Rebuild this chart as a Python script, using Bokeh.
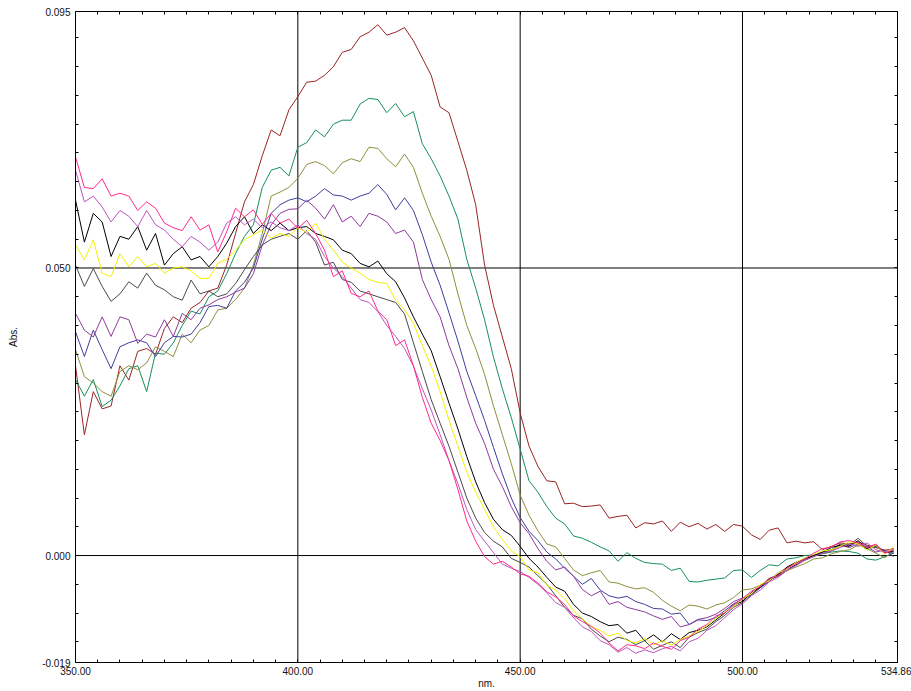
from bokeh.plotting import figure
from bokeh.models import Range1d, FixedTicker, LinearAxis, NumeralTickFormatter, Span
from bokeh.embed import file_html
from bokeh.resources import INLINE

# wavelength grid (nm), 2 nm steps
wavelength_nm = list(range(350, 535, 2))

# absorbance values in milli-absorbance units (x 1e-3)
red_mabs = [
    33.0, 21.0, 28.5, 25.5, 26.0, 33.0, 30.5, 35.5, 36.0, 35.0,
    39.5, 41.5, 40.5, 43.0, 44.0, 46.0, 46.5, 50.5, 56.0, 61.5,
    64.5, 69.5, 74.0, 73.0, 77.5, 79.8, 82.3, 82.5, 83.5, 85.0,
    87.5, 88.0, 90.2, 91.0, 92.3, 90.5, 91.0, 91.8, 89.5, 86.5,
    83.5, 78.0, 77.0, 72.0, 67.0, 61.0, 50.5, 43.5, 38.0, 32.5,
    24.8, 19.0, 15.5, 13.0, 12.8, 9.0, 9.1, 8.5, 8.6, 8.8,
    6.5, 6.8, 7.0, 4.8, 5.7, 5.5, 6.0, 4.2, 5.8, 5.0,
    5.6, 4.6, 5.4, 4.2, 5.4, 5.1, 3.6, 2.8, 4.4, 4.8,
    2.2, 2.5, 2.2, 2.4, 1.0, 1.6, 2.2, 2.0, 2.4, 1.8,
    1.5, 0.9, 1.2]
green_mabs = [
    30.6, 27.7, 30.6, 25.9, 27.0, 29.5, 32.5, 33.0, 28.5, 35.2,
    35.0, 37.0, 40.0, 42.5, 42.0, 45.0, 46.0, 49.0, 52.5, 55.5,
    57.5, 64.0, 67.0, 67.5, 66.0, 71.0, 71.8, 74.0, 72.8, 75.0,
    75.7, 75.7, 78.5, 79.5, 79.3, 77.0, 78.6, 76.3, 77.2, 71.6,
    69.0, 66.0, 62.5, 58.5, 51.5, 46.5, 41.0, 34.5, 29.0, 24.0,
    18.5, 13.0, 11.0, 8.5, 6.5, 5.5, 3.4, 3.0, 2.3, 1.5,
    0.8, -1.0, 0.5, -0.5, -1.2, -1.4, -1.5, -2.6, -2.2, -4.5,
    -4.6, -4.3, -4.1, -3.9, -2.6, -2.5, -3.8, -2.6, -1.6, -1.8,
    -0.6, -0.4, 0.0, 0.1, 0.3, 0.6, 0.8, 0.7, 0.4, -0.6,
    -0.8, -0.2, 0.4]
olive_mabs = [
    35.8, 31.1, 30.0, 28.5, 27.7, 32.0, 33.0, 32.3, 33.5, 36.3,
    35.5, 34.6, 38.5, 37.0, 39.2, 40.0, 42.7, 43.0, 44.5, 46.5,
    50.5, 56.0, 62.5, 63.2, 64.0, 65.6, 68.0, 68.5, 67.8, 66.4,
    68.3, 69.0, 68.5, 71.0, 70.8, 69.0, 67.6, 69.8, 67.5, 63.0,
    59.0, 55.5, 51.5, 45.5, 40.0, 36.0, 31.5, 26.0, 21.0, 16.0,
    10.5, 7.0, 4.3, 2.0, 1.5, -0.5, -2.5, -3.5, -3.0, -2.6,
    -4.6, -4.8, -5.4, -5.8, -5.6, -6.4, -7.8, -8.8, -9.6, -8.6,
    -8.8, -9.3, -8.6, -8.2, -7.3, -6.0, -5.8, -5.2, -4.2, -3.5,
    -2.6, -2.0, -1.4, -0.6, -0.4, 0.3, 0.7, 1.0, 1.8, 1.2,
    0.4, -0.4, 0.8]
blue_mabs = [
    38.9, 34.6, 39.2, 35.8, 32.5, 36.3, 37.0, 37.5, 37.0, 34.6,
    37.0, 38.1, 38.0, 38.5, 40.5, 43.3, 43.5, 43.0, 46.0, 47.5,
    50.0, 55.0, 59.5, 61.0, 61.8, 62.2, 61.5, 62.5, 63.8, 62.7,
    62.5, 61.8, 62.5, 63.0, 64.5, 62.8, 60.1, 62.2, 60.0, 55.8,
    51.0, 47.0, 42.2, 37.3, 32.0, 27.8, 23.5, 18.8, 14.2, 10.0,
    6.6, 4.2, 2.6, 0.6, -0.6, -2.2, -3.6, -5.0, -4.0, -6.0,
    -7.0, -7.4, -7.1, -8.0, -8.5, -9.2, -9.3, -10.2, -10.0, -12.0,
    -11.2, -11.3, -10.8, -9.6, -8.4, -7.6, -6.8, -5.6, -4.5, -3.2,
    -2.4, -1.6, -0.8, 0.0, 0.4, 0.8, 1.5, 1.8, 2.2, 1.0,
    1.6, 0.6, 0.4]
purple_mabs = [
    42.1, 39.2, 38.0, 41.5, 38.1, 41.5, 41.0, 36.9, 38.5, 38.0,
    41.0, 38.1, 42.1, 41.0, 43.0, 43.6, 44.5, 45.0, 45.8, 46.5,
    49.0, 54.0, 57.5, 59.5, 60.2, 60.3, 61.8, 60.4, 58.5, 61.0,
    58.0, 59.0, 57.2, 59.5, 59.0, 58.0, 56.0, 56.6, 54.5, 48.0,
    44.5, 41.5, 36.5, 32.5, 27.5, 23.0, 19.5, 15.0, 12.0, 8.5,
    5.7, 3.8, 1.2, -1.0, -2.5, -2.0, -3.6, -5.9, -7.0, -6.2,
    -8.5, -8.0, -9.0, -9.4, -9.8, -10.5, -11.1, -10.6, -12.4, -12.0,
    -11.1, -10.8, -10.2, -9.2, -8.0, -7.4, -6.8, -5.2, -4.4, -3.0,
    -2.2, -1.2, -0.6, 0.0, 0.6, 0.9, 1.8, 1.4, 2.0, 1.5,
    0.6, 1.0, -0.2]
gray_mabs = [
    50.5, 46.8, 49.9, 46.8, 44.2, 45.5, 47.6, 46.5, 49.1, 47.0,
    46.2, 45.0, 44.4, 47.9, 45.5, 46.0, 45.0, 45.5, 47.3, 49.7,
    52.0, 54.0, 55.0, 55.5, 56.0, 55.0, 56.5, 54.5, 50.5, 51.0,
    48.0, 47.5, 46.0, 45.5, 45.0, 44.5, 44.0, 42.0, 37.0, 32.0,
    27.1, 23.0, 19.0, 14.5, 10.0, 6.5, 4.0, 2.5, 1.5, -0.5,
    -1.2, -2.0, -3.5, -5.0, -7.0, -9.0, -10.4, -11.0, -12.8, -14.0,
    -15.0, -14.2, -14.6, -15.5, -14.8, -16.3, -15.6, -15.0, -16.0, -14.2,
    -13.4, -12.8, -11.5, -10.4, -9.0, -8.2, -6.8, -5.6, -4.2, -3.6,
    -2.6, -1.6, -0.8, -0.2, 0.6, 1.0, 2.0, 1.8, 3.0, 1.6,
    1.4, 0.8, 0.6]
black_mabs = [
    61.8, 54.5, 59.5, 58.0, 52.0, 55.5, 55.0, 57.2, 53.1, 56.0,
    50.5, 52.5, 53.7, 51.4, 52.0, 50.2, 52.0, 54.3, 57.2, 58.9,
    56.0, 57.5, 56.5, 57.8, 56.5, 57.0, 57.2, 56.0, 55.5, 54.9,
    53.1, 52.5, 50.8, 50.2, 51.2, 49.0, 47.6, 44.8, 41.5, 38.5,
    35.6, 31.1, 26.5, 22.0, 17.2, 12.8, 9.2, 6.3, 4.5, 3.5,
    1.6, -0.5, -2.0, -3.8, -5.5, -6.2, -8.5, -10.0, -10.6, -11.5,
    -12.2, -12.0, -13.5, -13.0, -14.8, -13.8, -15.0, -13.6, -14.6, -13.4,
    -13.0, -12.4, -11.2, -10.0, -8.6, -8.0, -6.4, -5.5, -4.0, -3.4,
    -2.0, -1.2, -0.6, 0.0, 0.6, 1.4, 1.8, 1.6, 2.6, 1.2,
    1.8, 0.5, 0.8]
orchid_mabs = [
    67.0, 61.5, 62.5, 60.6, 58.0, 60.0, 59.0, 57.2, 60.0, 57.5,
    56.6, 55.0, 53.7, 55.5, 54.5, 53.1, 54.5, 57.8, 58.9, 57.5,
    58.5, 57.0, 58.0, 57.0, 56.5, 57.5, 56.0, 55.0, 52.0, 50.0,
    48.5, 46.5, 44.5, 44.0, 42.4, 40.0, 38.1, 36.0, 32.9, 29.0,
    25.3, 21.0, 16.5, 12.5, 8.0, 4.5, 2.5, 0.5, -1.5, -2.2,
    -2.8, -3.8, -5.0, -6.5, -8.2, -9.0, -10.8, -12.4, -13.2, -14.8,
    -15.5, -16.8, -16.0, -17.0, -16.4, -16.9, -16.2, -15.8, -16.6, -15.0,
    -14.4, -13.0, -12.2, -10.8, -9.4, -8.4, -7.0, -6.0, -4.6, -3.8,
    -2.6, -1.8, -0.8, -0.2, 0.4, 0.8, 1.4, 2.0, 1.6, 2.2,
    1.0, 0.6, 1.2]
yellow_mabs = [
    54.0, 51.4, 54.9, 49.1, 48.5, 52.5, 50.2, 52.0, 50.2, 50.8,
    49.1, 50.0, 50.2, 49.5, 48.2, 48.2, 50.8, 51.5, 53.1, 54.9,
    55.8, 56.6, 55.2, 56.0, 55.5, 57.0, 56.2, 57.8, 55.0, 53.1,
    51.0, 50.0, 49.1, 48.0, 47.5, 47.3, 44.4, 42.7, 40.4, 36.5,
    32.9, 28.5, 23.5, 19.0, 14.5, 11.0, 8.0, 5.0, 2.8, 0.8,
    -0.2, -2.5, -3.0, -5.2, -6.0, -7.5, -9.6, -11.0, -12.4, -13.0,
    -14.0, -13.5, -14.8, -15.2, -14.4, -15.5, -14.8, -15.6, -14.6, -14.0,
    -13.2, -12.2, -11.0, -9.8, -8.8, -7.6, -6.6, -5.0, -4.4, -3.0,
    -2.4, -1.2, -0.4, 0.2, 0.8, 1.0, 1.6, 2.4, 2.0, 1.0,
    1.8, 0.2, 1.6]
pink_mabs = [
    69.3, 64.0, 63.8, 65.5, 62.5, 63.0, 62.5, 60.0, 61.5, 60.4,
    57.8, 57.0, 56.5, 58.9, 56.6, 57.5, 52.8, 56.3, 60.4, 58.9,
    60.1, 57.6, 59.5, 57.8, 58.5, 56.9, 58.3, 56.0, 53.1, 48.5,
    49.5, 45.6, 45.0, 46.0, 42.5, 41.0, 36.5, 37.5, 33.0, 27.5,
    23.0, 20.0, 16.5, 11.5, 6.0, 2.5, -0.2, -1.5, -1.0, -2.0,
    -3.2, -3.6, -4.8, -6.3, -7.2, -8.5, -10.5, -11.5, -12.3, -13.5,
    -15.2, -16.6, -15.5, -15.7, -16.2, -15.2, -15.8, -16.3, -14.8, -14.2,
    -12.8, -12.0, -10.5, -10.0, -8.6, -7.5, -6.2, -5.4, -4.0, -3.5,
    -2.2, -1.4, -0.6, 0.4, 1.2, 1.5, 2.4, 2.6, 2.2, 1.4,
    2.0, 0.4, 1.0]

series = [
    (red_mabs, "#9a2424"),
    (green_mabs, "#16905a"),
    (olive_mabs, "#8e8e3e"),
    (blue_mabs, "#3e3e9c"),
    (purple_mabs, "#8e3a9c"),
    (gray_mabs, "#4a4a4a"),
    (black_mabs, "#000000"),
    (orchid_mabs, "#bb55c0"),
    (yellow_mabs, "#f2f200"),
    (pink_mabs, "#ff2a8a"),
]

# axis extents (edge labels are rounded: 0.095 / -0.019)
y_low, y_high = -0.0186, 0.0946
x_ticks = [350, 400, 450, 500, 534.86]
y_ticks = [y_low, 0.0, 0.050, y_high]
x_minor = [355 + 5 * k for k in range(36)]
y_minor = [round(-0.015 + 0.005 * k, 3) for k in range(22)]

FONT = "Liberation Sans"

p = figure(width=911, height=691,
           x_range=Range1d(350, 534.86), y_range=Range1d(y_low, y_high),
           output_backend="svg", toolbar_location=None,
           min_border_left=75, min_border_right=14,
           min_border_top=11, min_border_bottom=28)

p.xgrid.visible = False
p.ygrid.visible = False
p.outline_line_color = "black"
p.outline_line_width = 1
p.background_fill_color = "white"
p.border_fill_color = "white"

for loc in [400, 450, 500]:
    p.add_layout(Span(location=loc, dimension="height", line_color="black",
                      line_width=1, level="underlay"))
for loc in [0.050, 0.0]:
    p.add_layout(Span(location=loc, dimension="width", line_color="black",
                      line_width=1, level="underlay"))

for vals, col in series:
    p.line(wavelength_nm, [v / 1000.0 for v in vals], line_color=col, line_width=1)

xa = p.xaxis[0]
xa.ticker = FixedTicker(ticks=x_ticks, minor_ticks=x_minor)
xa.formatter = NumeralTickFormatter(format="0.00")
xa.axis_label = "nm."
ya = p.yaxis[0]
ya.ticker = FixedTicker(ticks=y_ticks, minor_ticks=y_minor)
ya.formatter = NumeralTickFormatter(format="0.000")
ya.axis_label = "Abs."

for ax in (xa, ya):
    ax.major_tick_in = 0
    ax.major_tick_out = 0
    ax.minor_tick_in = 3
    ax.minor_tick_out = 0
    ax.axis_line_color = "black"
    ax.minor_tick_line_color = "black"
    ax.major_label_text_font = FONT
    ax.major_label_text_font_size = "10px"
    ax.major_label_text_color = "#111111"
    ax.axis_label_text_font = FONT
    ax.axis_label_text_font_size = "10px"
    ax.axis_label_text_font_style = "normal"
    ax.axis_label_text_color = "#111111"

xa.major_label_standoff = 4
xa.axis_label_standoff = 0
ya.major_label_standoff = 5
ya.axis_label_standoff = 20

top = LinearAxis(ticker=FixedTicker(ticks=[], minor_ticks=x_minor))
right = LinearAxis(ticker=FixedTicker(ticks=[], minor_ticks=y_minor))
for ax in (top, right):
    ax.major_tick_in = 0
    ax.major_tick_out = 0
    ax.minor_tick_in = 3
    ax.minor_tick_out = 0
    ax.axis_line_color = "black"
    ax.minor_tick_line_color = "black"
    ax.major_label_text_font_size = "10px"
p.add_layout(top, "above")
p.add_layout(right, "right")

open("out.html", "w").write(file_html(p, INLINE))
